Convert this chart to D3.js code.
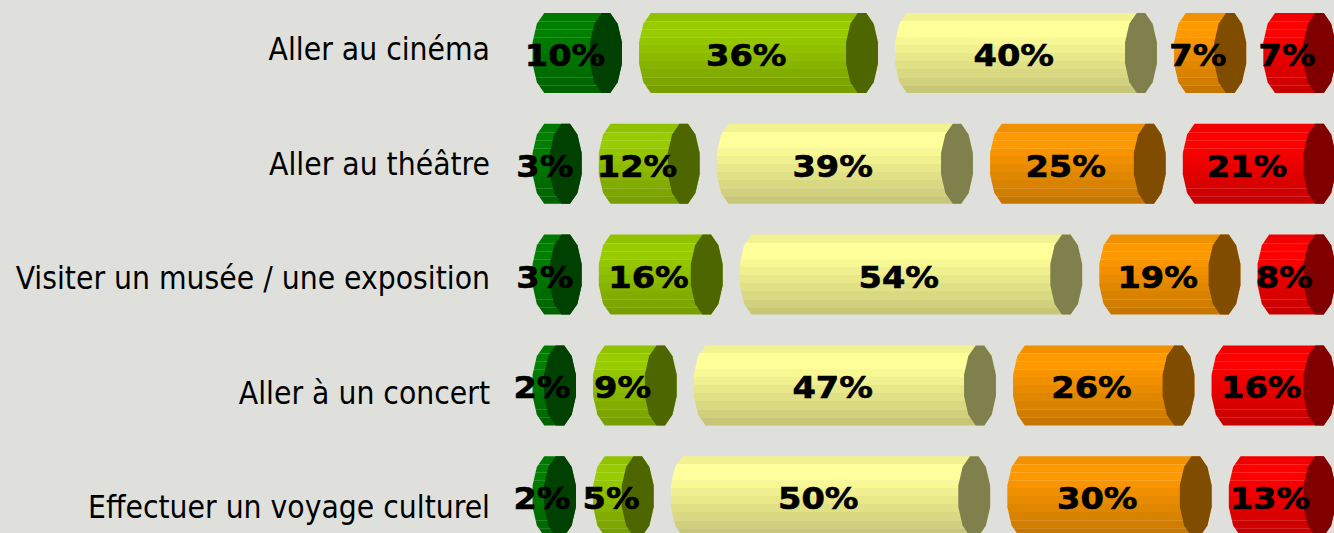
<!DOCTYPE html>
<html lang="fr">
<head>
<meta charset="utf-8">
<script src="https://cdn.jsdelivr.net/npm/d3@7"></script>
<style>
    html, body { margin: 0; padding: 0; background: #dfe0db; overflow: hidden; }
    svg { display: block; }
</style>
</head>
<body>
<svg id="graphique" width="1334" height="533"></svg>
<script>
// Données
const categories = [
    "Aller au cinéma",
    "Aller au théâtre",
    "Visiter un musée / une exposition",
    "Aller à un concert",
    "Effectuer un voyage culturel"
];

const serieVertFonce = [10, 3, 3, 2, 2];
const serieVertClair = [36, 12, 16, 9, 5];
const serieJaune = [40, 39, 54, 47, 50];
const serieOrange = [7, 25, 19, 26, 30];
const serieRouge = [7, 21, 8, 16, 13];

const series = [serieVertFonce, serieVertClair, serieJaune, serieOrange, serieRouge];
const couleurs = ["#007f00", "#99cc00", "#ffff99", "#ff9900", "#ff0000"];

// Géométrie
const x0 = 532;        // bord gauche des cylindres
const rx = 16.5;       // demi-largeur du couvercle
const demiHaut = 40;   // demi-hauteur visible du cylindre
const ry = demiHaut / Math.sin(75 * Math.PI / 180);
const ecart = 16;

// Ombrage du cylindre (haut -> bas)
const profil = [0.95, 1.0, 1.0, 0.97, 0.94, 0.91, 0.88, 0.85, 0.82, 0.78];
const lignesClaires = [1, 2, 3, 8, 9];

const svg = d3.select("#graphique");
const defs = svg.append("defs");

const xEchelle = d3.scaleLinear().domain([0, 100]).range([0, 575]);
const yBarres = d3.scaleBand()
    .domain(categories)
    .range([13, 13 + 4 * 110.8 + 80])
    .paddingInner(0.278)
    .paddingOuter(0);
const yLibelles = d3.scalePoint().domain(categories).range([60, 518]);

// dégradés en bandes horizontales
couleurs.forEach((c, j) => {
    const grad = defs.append("linearGradient")
        .attr("id", "degrade-" + j)
        .attr("x1", 0).attr("y1", 0).attr("x2", 0).attr("y2", 1);
    const base = d3.rgb(c);
    const n = profil.length;
    profil.forEach((f, k) => {
        const col = d3.rgb(base.r * f, base.g * f, base.b * f);
        const clair = d3.interpolateRgb(col, "#ffffff")(0.15);
        const debut = k / n, fin = (k + 1) / n;
        if (lignesClaires.includes(k)) {
            grad.append("stop").attr("offset", debut).attr("stop-color", clair);
            grad.append("stop").attr("offset", debut + 0.012).attr("stop-color", clair);
            grad.append("stop").attr("offset", debut + 0.012).attr("stop-color", col);
        } else {
            grad.append("stop").attr("offset", debut).attr("stop-color", col);
        }
        grad.append("stop").attr("offset", fin).attr("stop-color", col);
    });
});

function sommet(cx, cy, angle) {
    const a = angle * Math.PI / 180;
    return [cx + rx * Math.cos(a), cy - ry * Math.sin(a)];
}

const anglesGauche = [105, 135, 165, 195, 225, 255];
const anglesDroite = [285, 315, 345, 15, 45, 75];

function cheminCorps(cxG, cxD, cy) {
    const pts = anglesGauche.map(a => sommet(cxG, cy, a))
        .concat(anglesDroite.map(a => sommet(cxD, cy, a)));
    return "M" + pts.map(p => p.join(",")).join("L") + "Z";
}

function cheminCouvercle(cx, cy) {
    const pts = d3.range(12).map(k => sommet(cx, cy, 15 + 30 * k));
    return "M" + pts.map(p => p.join(",")).join("L") + "Z";
}

function assombrir(c) {
    const b = d3.rgb(c);
    return d3.rgb(b.r * 0.5, b.g * 0.5, b.b * 0.5).toString();
}

// construire les segments
const segments = [];
categories.forEach((cat, i) => {
    let cumul = 0;
    series.forEach((serie, j) => {
        const v = serie[i];
        const cxG = x0 + rx + xEchelle(cumul) + j * (2 * rx + ecart);
        const cxD = cxG + xEchelle(v) - xEchelle(0);
        const cy = yBarres(cat) + yBarres.bandwidth() / 2;
        segments.push({ cat, j, v, cxG, cxD, cy });
        cumul += v;
    });
});

const groupes = svg.append("g").selectAll("g.segment")
    .data(segments)
    .join("g")
    .attr("class", "segment");

groupes.append("path")
    .attr("d", d => cheminCorps(d.cxG, d.cxD, d.cy))
    .attr("fill", d => `url(#degrade-${d.j})`);

groupes.append("path")
    .attr("d", d => cheminCouvercle(d.cxD, d.cy))
    .attr("fill", d => assombrir(couleurs[d.j]));

// étiquettes de valeur
groupes.append("text")
    .attr("transform", d => `translate(${(d.cxG - rx + d.cxD) / 2 - 4},${d.cy + 13}) scale(1.14,1)`)
    .attr("text-anchor", "middle")
    .attr("font-family", "'DejaVu Sans', Verdana, sans-serif")
    .attr("font-weight", "bold")
    .attr("font-size", 29.5)
    .attr("fill", "#000")
    .attr("stroke", "#000")
    .attr("stroke-width", 0.6)
    .text(d => d.v + "%");

// libellés des catégories
svg.append("g").selectAll("text")
    .data(categories)
    .join("text")
    .attr("x", 490)
    .attr("y", d => yLibelles(d))
    .attr("text-anchor", "end")
    .attr("font-family", "'DejaVu Sans Condensed', 'DejaVu Sans', sans-serif")
    .attr("font-stretch", "condensed")
    .attr("font-size", 31.5)
    .attr("fill", "#000")
    .text(d => d);
</script>
</body>
</html>
